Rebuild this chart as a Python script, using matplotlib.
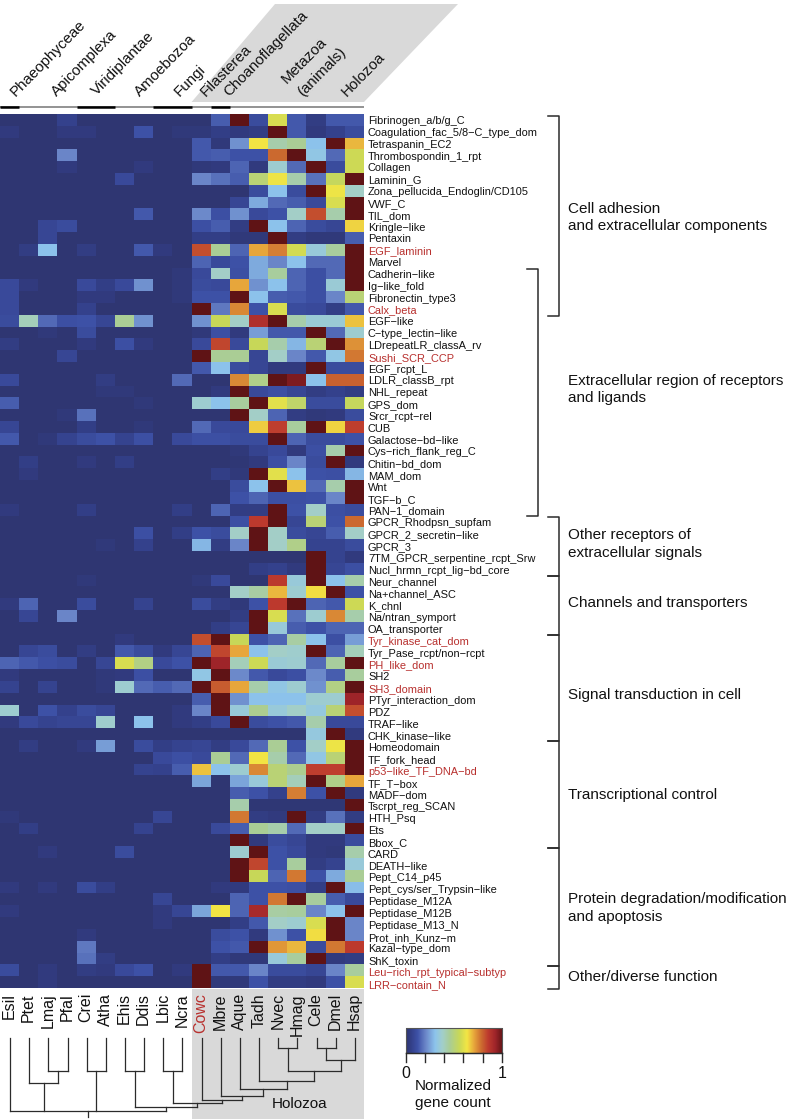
import numpy as np
import matplotlib
matplotlib.use('Agg')
import matplotlib.pyplot as plt
from matplotlib.colors import LinearSegmentedColormap
from matplotlib.patches import Polygon, Rectangle

plt.rcParams['font.family'] = ['Liberation Sans', 'DejaVu Sans']

species = ['Esil', 'Ptet', 'Lmaj', 'Pfal', 'Crei', 'Atha', 'Ehis', 'Ddis', 'Lbic', 'Ncra',
           'Cowc', 'Mbre', 'Aque', 'Tadh', 'Nvec', 'Hmag', 'Cele', 'Dmel', 'Hsap']

domains = ['Fibrinogen_a/b/g_C', 'Coagulation_fac_5/8−C_type_dom', 'Tetraspanin_EC2', 'Thrombospondin_1_rpt',
           'Collagen', 'Laminin_G', 'Zona_pellucida_Endoglin/CD105', 'VWF_C', 'TIL_dom', 'Kringle−like',
           'Pentaxin', 'EGF_laminin', 'Marvel', 'Cadherin−like', 'Ig−like_fold', 'Fibronectin_type3',
           'Calx_beta', 'EGF−like', 'C−type_lectin−like', 'LDrepeatLR_classA_rv', 'Sushi_SCR_CCP',
           'EGF_rcpt_L', 'LDLR_classB_rpt', 'NHL_repeat', 'GPS_dom', 'Srcr_rcpt−rel', 'CUB',
           'Galactose−bd−like', 'Cys−rich_flank_reg_C', 'Chitin−bd_dom', 'MAM_dom', 'Wnt', 'TGF−b_C',
           'PAN−1_domain', 'GPCR_Rhodpsn_supfam', 'GPCR_2_secretin−like', 'GPCR_3',
           '7TM_GPCR_serpentine_rcpt_Srw', 'Nucl_hrmn_rcpt_lig−bd_core', 'Neur_channel', 'Na+channel_ASC',
           'K_chnl', 'Na/ntran_symport', 'OA_transporter', 'Tyr_kinase_cat_dom', 'Tyr_Pase_rcpt/non−rcpt',
           'PH_like_dom', 'SH2', 'SH3_domain', 'PTyr_interaction_dom', 'PDZ', 'TRAF−like', 'CHK_kinase−like',
           'Homeodomain', 'TF_fork_head', 'p53−like_TF_DNA−bd', 'TF_T−box', 'MADF−dom', 'Tscrpt_reg_SCAN',
           'HTH_Psq', 'Ets', 'Bbox_C', 'CARD', 'DEATH−like', 'Pept_C14_p45', 'Pept_cys/ser_Trypsin−like',
           'Peptidase_M12A', 'Peptidase_M12B', 'Peptidase_M13_N', 'Prot_inh_Kunz−m', 'Kazal−type_dom',
           'ShK_toxin', 'Leu−rich_rpt_typical−subtyp', 'LRR−contain_N']

red_domains = ['EGF_laminin', 'Calx_beta', 'Sushi_SCR_CCP', 'Tyr_kinase_cat_dom', 'PH_like_dom', 'SH3_domain',
               'p53−like_TF_DNA−bd', 'Leu−rich_rpt_typical−subtyp', 'LRR−contain_N']

# normalized gene count x 100, one row per domain
counts = [
    [0, 0, 0, 6, 0, 0, 0, 0, 0, 0, 0, 14, 100, 10, 58, 13, 4, 13, 13],
    [3, 0, 0, 3, 3, 0, 0, 12, 0, 2, 2, 5, 3, 4, 100, 13, 3, 6, 10],
    [0, 0, 0, 0, 0, 0, 0, 0, 0, 0, 13, 2, 22, 63, 42, 45, 30, 100, 68],
    [0, 0, 0, 20, 0, 0, 0, 0, 0, 0, 13, 14, 12, 12, 78, 100, 32, 16, 56],
    [0, 0, 0, 3, 0, 0, 0, 3, 0, 0, 2, 3, 15, 3, 36, 16, 100, 10, 56],
    [0, 0, 0, 0, 0, 0, 9, 0, 0, 0, 20, 17, 14, 50, 62, 42, 17, 54, 100],
    [0, 0, 0, 0, 0, 0, 0, 0, 0, 0, 0, 0, 0, 10, 30, 10, 100, 62, 38],
    [0, 0, 0, 0, 0, 0, 0, 0, 0, 0, 0, 0, 8, 26, 16, 14, 9, 58, 100],
    [0, 0, 0, 0, 0, 0, 0, 13, 0, 0, 21, 11, 22, 9, 12, 38, 82, 42, 100],
    [0, 0, 8, 10, 0, 0, 0, 0, 0, 0, 11, 14, 4, 100, 30, 15, 10, 8, 65],
    [0, 0, 8, 0, 0, 0, 0, 0, 0, 0, 5, 5, 2, 2, 100, 4, 2, 2, 14],
    [0, 4, 30, 0, 4, 0, 0, 13, 3, 0, 82, 45, 15, 70, 75, 57, 34, 44, 100],
    [0, 0, 0, 0, 0, 0, 0, 0, 0, 0, 15, 9, 12, 26, 20, 30, 16, 16, 100],
    [0, 0, 0, 0, 0, 0, 0, 0, 0, 2, 9, 38, 11, 26, 44, 15, 11, 16, 100],
    [9, 3, 0, 0, 9, 5, 9, 22, 0, 2, 10, 9, 70, 22, 30, 15, 11, 35, 100],
    [9, 0, 0, 0, 3, 3, 0, 0, 0, 2, 12, 12, 100, 30, 14, 13, 11, 20, 50],
    [9, 0, 0, 0, 6, 0, 0, 0, 0, 0, 100, 18, 74, 12, 58, 10, 9, 5, 13],
    [10, 40, 16, 11, 12, 8, 45, 22, 0, 0, 22, 55, 38, 88, 100, 42, 35, 35, 67],
    [0, 0, 2, 0, 10, 0, 0, 0, 0, 0, 2, 11, 3, 24, 13, 13, 100, 16, 36],
    [4, 0, 0, 0, 3, 0, 11, 3, 0, 0, 9, 83, 9, 55, 42, 28, 50, 100, 73],
    [0, 0, 0, 8, 0, 0, 0, 0, 0, 0, 100, 45, 45, 8, 38, 20, 13, 32, 76],
    [0, 0, 0, 0, 0, 0, 0, 0, 0, 0, 13, 30, 10, 8, 3, 3, 100, 10, 10],
    [9, 0, 0, 0, 0, 4, 0, 0, 0, 16, 0, 0, 74, 47, 100, 96, 30, 79, 79],
    [0, 0, 0, 0, 0, 2, 2, 0, 0, 0, 0, 3, 100, 9, 11, 8, 4, 6, 4],
    [14, 0, 0, 0, 0, 0, 0, 2, 0, 0, 36, 30, 44, 100, 60, 52, 10, 10, 54],
    [0, 0, 0, 2, 17, 0, 0, 0, 0, 0, 0, 0, 100, 38, 15, 4, 2, 3, 10],
    [8, 0, 0, 0, 5, 0, 0, 2, 0, 0, 16, 9, 9, 66, 84, 44, 100, 65, 84],
    [13, 0, 2, 7, 10, 12, 7, 11, 0, 9, 11, 11, 10, 10, 100, 15, 10, 10, 12],
    [0, 0, 0, 0, 0, 0, 0, 0, 0, 0, 0, 0, 2, 7, 9, 3, 11, 42, 100],
    [0, 5, 0, 0, 3, 0, 5, 0, 0, 0, 0, 0, 1, 3, 11, 20, 10, 100, 3],
    [0, 3, 0, 0, 0, 0, 0, 0, 0, 0, 0, 5, 2, 100, 60, 30, 12, 11, 28],
    [0, 0, 0, 0, 0, 0, 0, 0, 0, 0, 0, 0, 10, 30, 100, 67, 16, 42, 100],
    [0, 0, 0, 0, 0, 0, 0, 0, 0, 0, 0, 0, 12, 15, 11, 11, 12, 20, 100],
    [3, 0, 0, 0, 5, 0, 0, 0, 0, 5, 0, 15, 4, 4, 100, 12, 38, 11, 10],
    [0, 0, 0, 0, 0, 0, 0, 0, 0, 0, 0, 0, 11, 85, 100, 8, 50, 12, 78],
    [0, 0, 0, 0, 0, 0, 0, 11, 0, 5, 12, 10, 38, 100, 38, 10, 8, 14, 38],
    [0, 0, 0, 0, 0, 2, 0, 6, 0, 0, 28, 4, 20, 100, 38, 47, 7, 7, 10],
    [0, 0, 0, 0, 0, 0, 0, 0, 0, 0, 0, 0, 0, 0, 0, 0, 100, 7, 3],
    [0, 0, 0, 0, 0, 0, 0, 0, 0, 0, 0, 0, 0, 5, 6, 3, 100, 8, 11],
    [0, 0, 0, 0, 2, 0, 0, 0, 0, 0, 2, 9, 0, 0, 85, 34, 100, 30, 42],
    [0, 0, 0, 0, 0, 0, 0, 0, 0, 0, 0, 0, 38, 43, 68, 36, 64, 100, 12],
    [3, 15, 0, 0, 10, 0, 0, 7, 0, 0, 10, 4, 2, 12, 85, 100, 15, 13, 56],
    [0, 8, 0, 20, 0, 0, 0, 0, 0, 0, 0, 0, 4, 100, 58, 17, 36, 74, 42],
    [0, 0, 0, 0, 0, 0, 0, 0, 0, 0, 0, 5, 8, 100, 34, 14, 12, 15, 15],
    [0, 0, 0, 0, 0, 0, 3, 0, 0, 0, 82, 100, 55, 12, 15, 43, 30, 11, 24],
    [0, 8, 10, 0, 4, 0, 13, 10, 3, 8, 15, 83, 70, 30, 38, 37, 100, 15, 40],
    [15, 13, 11, 10, 0, 8, 58, 48, 9, 12, 100, 92, 40, 56, 35, 36, 16, 44, 100],
    [3, 0, 0, 0, 0, 2, 3, 11, 0, 0, 32, 100, 21, 13, 9, 11, 21, 14, 44],
    [7, 0, 7, 0, 0, 2, 36, 16, 14, 16, 100, 80, 70, 42, 32, 36, 22, 48, 100],
    [0, 0, 0, 0, 0, 0, 0, 0, 0, 0, 14, 100, 22, 30, 30, 30, 36, 36, 92],
    [36, 0, 12, 6, 10, 8, 0, 0, 0, 3, 20, 100, 34, 46, 34, 38, 33, 50, 82],
    [3, 9, 7, 8, 8, 37, 0, 30, 0, 3, 5, 9, 100, 10, 12, 13, 42, 9, 9],
    [0, 0, 0, 0, 0, 0, 0, 0, 0, 0, 0, 0, 0, 0, 0, 0, 33, 100, 3],
    [0, 4, 0, 0, 3, 24, 0, 10, 5, 7, 8, 4, 9, 16, 45, 12, 38, 62, 100],
    [0, 0, 0, 0, 0, 0, 0, 0, 9, 11, 9, 45, 16, 63, 42, 16, 32, 50, 100],
    [0, 0, 0, 0, 0, 0, 0, 7, 6, 14, 67, 30, 36, 74, 50, 46, 84, 84, 100],
    [0, 0, 0, 0, 0, 0, 0, 0, 0, 0, 25, 0, 25, 34, 50, 40, 100, 47, 70],
    [0, 0, 0, 0, 0, 0, 0, 0, 0, 0, 0, 0, 14, 12, 6, 75, 12, 100, 3],
    [0, 0, 0, 0, 0, 0, 0, 0, 0, 0, 0, 0, 42, 1, 1, 1, 1, 1, 100],
    [2, 0, 0, 0, 0, 0, 0, 0, 8, 0, 0, 0, 76, 4, 3, 100, 4, 17, 4],
    [0, 5, 0, 0, 0, 0, 0, 7, 0, 0, 0, 9, 14, 45, 42, 16, 38, 38, 100],
    [0, 0, 0, 0, 0, 0, 0, 0, 0, 0, 0, 0, 100, 3, 10, 8, 3, 3, 10],
    [0, 0, 3, 0, 0, 0, 10, 0, 0, 0, 0, 0, 36, 100, 12, 9, 3, 2, 42],
    [0, 0, 0, 0, 0, 0, 0, 0, 0, 0, 0, 0, 100, 83, 12, 44, 4, 7, 34],
    [0, 0, 0, 0, 0, 0, 0, 0, 0, 0, 0, 0, 100, 55, 15, 76, 12, 26, 45],
    [3, 0, 3, 0, 10, 5, 0, 0, 0, 0, 0, 3, 3, 12, 12, 11, 5, 100, 29],
    [0, 0, 0, 0, 0, 0, 0, 0, 8, 0, 0, 0, 15, 12, 76, 100, 44, 14, 9],
    [3, 0, 0, 0, 0, 0, 0, 0, 3, 8, 25, 63, 15, 90, 43, 44, 20, 30, 100],
    [0, 0, 0, 0, 0, 0, 0, 0, 3, 0, 0, 0, 5, 13, 38, 36, 58, 100, 20],
    [0, 0, 0, 0, 3, 0, 0, 0, 0, 0, 0, 10, 12, 3, 22, 12, 64, 100, 20],
    [0, 0, 0, 0, 18, 0, 0, 0, 0, 0, 0, 12, 13, 100, 72, 68, 10, 76, 85],
    [0, 0, 0, 0, 17, 4, 0, 0, 0, 0, 0, 5, 2, 2, 34, 44, 100, 3, 4],
    [10, 0, 3, 0, 4, 3, 9, 12, 0, 3, 100, 13, 13, 20, 10, 10, 8, 20, 44],
    [0, 0, 3, 0, 0, 0, 0, 0, 0, 0, 100, 2, 2, 12, 4, 4, 3, 12, 58],
]

# first and last row boundary of every bracket
bracket_rows = [(0, 17), (13, 34), (34, 39), (39, 44), (44, 53), (53, 62), (62, 72), (72, 74)]
bracket_labels = ['Cell adhesion\nand extracellular components',
                  'Extracellular region of receptors\nand ligands',
                  'Other receptors of\nextracellular signals',
                  'Channels and transporters',
                  'Signal transduction in cell',
                  'Transcriptional control',
                  'Protein degradation/modification\nand apoptosis',
                  'Other/diverse function']
bracket_label_y = [217.5, 389.5, 544, 603, 695, 795, 908, 977]

clades = ['Phaeophyceae', 'Apicomplexa', 'Viridiplantae', 'Amoebozoa', 'Fungi', 'Filasterea',
          'Choanoflagellata', 'Metazoa', '(animals)', 'Holozoa']
clade_x = [16, 57, 97, 140, 180, 206, 229, 287, 303, 347]
clade_y = [97, 97, 96, 97, 97, 97, 97, 84, 97, 97]
clade_bars = [(0, 1), (4, 6), (8, 10), (11, 12)]

# dendrogram: (pixel height of the join, children...), leaves are species names
tree = (1111, 'Esil',
        (1083, 'Ptet', (1071, 'Lmaj', 'Pfal')),
        (1071, 'Crei', 'Atha'),
        (1107, (1071, 'Ehis', 'Ddis'),
         (1103, (1071, 'Lbic', 'Ncra'),
          (1100, 'Cowc',
           (1096, 'Mbre',
            (1089, 'Aque',
             (1081, 'Tadh',
              (1071, (1048, 'Nvec', 'Hmag'),
               (1060, (1048, 'Cele', 'Dmel'), 'Hsap')))))))))

cmap = LinearSegmentedColormap.from_list('gene_count', [
    (0.00, '#2f3672'), (0.05, '#333f88'), (0.12, '#3e52a8'), (0.20, '#6a85c8'),
    (0.30, '#8dc4ec'), (0.38, '#a3cfc8'), (0.45, '#aacd96'), (0.55, '#c8d858'),
    (0.63, '#f3e644'), (0.70, '#e8a83c'), (0.78, '#cc6a30'), (0.85, '#bd3a2e'),
    (0.92, '#a0252a'), (1.00, '#5f1315')])

W, H = 788, 1119
heat_left, heat_right, heat_top, heat_bottom = 0, 364, 115, 988.5
cell_w = (heat_right - heat_left) / len(species)
cell_h = (heat_bottom - heat_top) / len(domains)
dark = '#2b2b2b'
red = '#b8302e'

fig = plt.figure(figsize=(W / 100, H / 100), dpi=100)
ax = fig.add_axes([0, 0, 1, 1])  # whole figure in pixel units

# grey boxes behind the Holozoa part
hol = species.index('Cowc') * cell_w
ax.add_patch(Rectangle((hol, heat_bottom), heat_right - hol, H - heat_bottom, fc='#d9d9d9', ec='none', zorder=0))
ax.add_patch(Polygon([(hol, 102), (275, 4), (458, 4), (heat_right, 102)], fc='#d9d9d9', ec='none', zorder=0))

ax.imshow(np.array(counts) / 100, cmap=cmap, vmin=0, vmax=1, aspect='auto', interpolation='nearest',
          extent=(heat_left, heat_right, heat_bottom, heat_top), zorder=1)

# row labels, their pitch is a bit larger than the cells in the original
label_pitch = (985 - 121) / (len(domains) - 1)
for i, name in enumerate(domains):
    ax.text(368, 121 + i * label_pitch, name, fontsize=7.9, va='center', ha='left',
            color=red if name in red_domains else '#111111')

# species labels
for i, name in enumerate(species):
    ax.text((i + 0.5) * cell_w, 993, name, fontsize=11.5, rotation=90, ha='center', va='top',
            color=red if name == 'Cowc' else '#111111')

# clade labels on top
for name, x, y in zip(clades, clade_x, clade_y):
    ax.text(x, y, name, fontsize=10.9, rotation=45.5, rotation_mode='anchor', ha='left', va='baseline',
            color='#111111')
ax.plot([heat_left, heat_right], [107, 107], color='#8a8a8a', lw=1.3, solid_capstyle='butt')
for a, b in clade_bars:
    ax.plot([a * cell_w, b * cell_w], [107, 107], color='black', lw=1.8, solid_capstyle='butt')

# brackets on the right
for k, (a, b) in enumerate(bracket_rows):
    y0 = heat_top + a * cell_h + 0.7
    y1 = heat_top + b * cell_h + 0.7
    if k == 1:
        x = 537.7
        ax.plot([527, x, x, 527], [y0, y0, y1 - 1, y1 - 1], color=dark, lw=1.1)
    else:
        x = 558.7
        ax.plot([548, x, x, 548], [y0, y0, y1, y1], color=dark, lw=1.1)
for label, y in zip(bracket_labels, bracket_label_y):
    ax.text(568, y, label, fontsize=11, va='center', ha='left', color='#111111', linespacing=1.32)


def draw_node(node):
    # returns the x of a node, draws its join and the stems above it
    if isinstance(node, str):
        return (species.index(node) + 0.5) * cell_w + 0.5, 1038
    height = node[0]
    parts = [draw_node(child) for child in node[1:]]
    xs = [p[0] for p in parts]
    for x, top in parts:
        ax.plot([x, x], [top, height], color=dark, lw=0.9, solid_capstyle='projecting')
    ax.plot([min(xs), max(xs)], [height, height], color=dark, lw=0.9, solid_capstyle='projecting')
    return (min(xs) + max(xs)) / 2, height


root_x, root_y = draw_node(tree)
ax.plot([root_x, root_x], [root_y, 1117], color=dark, lw=0.9)
ax.text(300, 1104, 'Holozoa', fontsize=11, ha='center', va='center', color='#111111')

# colour bar
bar_left, bar_right, bar_top, bar_bottom = 405.7, 502, 1028, 1053
ax.imshow(np.linspace(0, 1, 256).reshape(1, -1), cmap=cmap, vmin=0, vmax=1, aspect='auto',
          extent=(bar_left, bar_right, bar_bottom, bar_top), zorder=1)
ax.add_patch(Rectangle((bar_left, bar_top), bar_right - bar_left, bar_bottom - bar_top, fc='none',
                       ec='#555555', lw=0.8, zorder=2))
for t in np.linspace(bar_left, bar_right, 6):
    ax.plot([t, t], [bar_bottom, 1062], color=dark, lw=1.0)
ax.plot([bar_left, bar_right], [bar_bottom, bar_bottom], color=dark, lw=1.0)
ax.text(bar_left, 1073, '0', fontsize=11.5, ha='center', va='center', color='#111111')
ax.text(bar_right, 1073, '1', fontsize=11.5, ha='center', va='center', color='#111111')
ax.text(453, 1094.5, 'Normalized\ngene count', fontsize=11, ha='center', va='center', color='#111111',
        linespacing=1.35)

ax.set_xlim(0, W)
ax.set_ylim(H, 0)
ax.axis('off')

fig.savefig('out.png', dpi=100)
